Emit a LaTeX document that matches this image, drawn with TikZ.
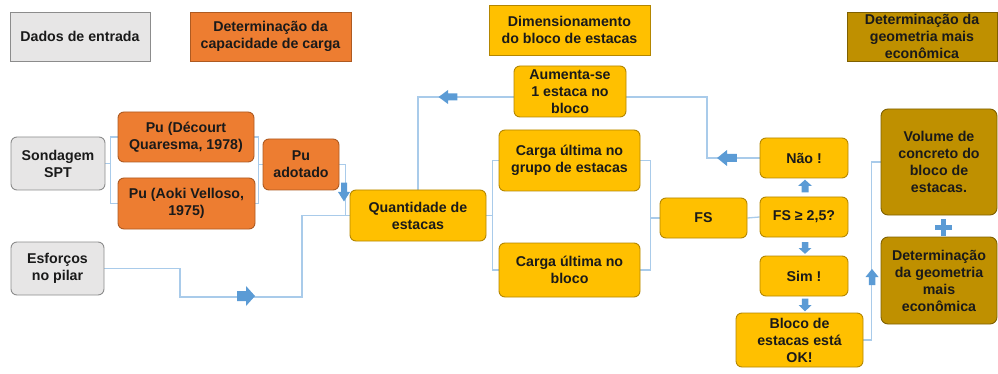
\documentclass[tikz,border=0pt]{standalone}
\usepackage{fontspec}
\setmainfont{Liberation Sans}
\usetikzlibrary{backgrounds}
\definecolor{grayf}{HTML}{E7E6E6}
\definecolor{grayd}{HTML}{8C8C8C}
\definecolor{orf}{HTML}{ED7D31}
\definecolor{ord}{HTML}{AE5A21}
\definecolor{yef}{HTML}{FFC000}
\definecolor{yed}{HTML}{B38600}
\definecolor{gof}{HTML}{BF9000}
\definecolor{god}{HTML}{7F6000}
\definecolor{linec}{HTML}{A9CBEA}
\definecolor{arrc}{HTML}{5B9BD5}
\definecolor{txt}{HTML}{1A1A1A}
\begin{document}
\begin{tikzpicture}[x=1pt,y=-1pt,
  font=\bfseries\fontsize{14.2}{17}\selectfont,
  base/.style={draw, line width=0.9pt, align=center, inner sep=1pt, text=txt},
  sz/.style 2 args={minimum width=#1pt, minimum height=#2pt},
  lgray/.style={base, fill=grayf, draw=grayd},
  lor/.style={base, fill=orf, draw=ord},
  lye/.style={base, fill=yef, draw=yed},
  lgo/.style={base, fill=gof, draw=god},
  bgray/.style={lgray, rounded corners=6pt},
  bor/.style={lor, rounded corners=6pt},
  bye/.style={lye, rounded corners=6pt},
  bgo/.style={lgo, rounded corners=7pt},
  conn/.style={draw=linec, line width=1.3pt},
  barrow/.pic={\fill[arrc] (-9,-5) -- (0,-5) -- (0,-10) -- (9,0) -- (0,10) -- (0,5) -- (-9,5) -- cycle;}
]
\useasboundingbox (0,0) rectangle (998,374);

% legend
\node[lgray, sz={140}{49}] (lg1) at (80,36.5) {Dados de entrada};
\node[lor, sz={161}{49}] (lg2) at (270.5,36.5) {Determinação da\\capacidade de carga};
\node[lye, sz={161}{50}] (lg3) at (569.5,30) {Dimensionamento\\do bloco de estacas};
\node[lgo, sz={150}{49}] (lg4) at (922,36.5) {Determinação da\\geometria mais\\econômica};

% nodes
\node[bgray, sz={94}{53}] (sond) at (58,163.5) {Sondagem\\SPT};
\node[bor, sz={136}{50}] (puD) at (186,137) {Pu (Décourt\\Quaresma, 1978)};
\node[bor, sz={137}{51}] (puA) at (186.5,203.5) {Pu (Aoki Velloso,\\1975)};
\node[bor, sz={76}{51}] (puAd) at (301,164.5) {Pu\\adotado};
\node[bgray, sz={93}{53}] (esf) at (57.5,268.5) {Esforços\\no pilar};
\node[bye, sz={136}{51}] (quant) at (418,215.5) {Quantidade de\\estacas};
\node[bye, sz={112}{51}] (aum) at (570,91.5) {Aumenta-se\\1 estaca no\\bloco};
\node[bye, sz={141}{61}] (cg) at (569.5,160.5) {Carga última no\\grupo de estacas};
\node[bye, sz={141}{54}] (cb) at (569.5,270) {Carga última no\\bloco};
\node[bye, sz={87}{40}] (fs) at (703.5,218) {FS};
\node[bye, sz={88}{40}] (nao) at (804,158) {Não !};
\node[bye, sz={88}{40}] (fsq) at (804,217) {FS ≥ 2,5?};
\node[bye, sz={88}{40}] (sim) at (804,276) {Sim !};
\node[bye, sz={127}{54}] (ok) at (799.5,340) {Bloco de\\estacas está\\OK!};
\node[bgo, sz={116}{106}] (vol) at (939,162) {Volume de\\concreto do\\bloco de\\estacas.};
\node[bgo, sz={116}{87}] (geo) at (939,280.5) {Determinação\\da geometria\\mais\\econômica};

\coordinate (e1) at (180,297);
\coordinate (e2) at (302,297);
\coordinate (f1) at (707,97);
\coordinate (f2) at (418,97);

\begin{scope}[on background layer]
\draw[conn] (puD.west) -- ++(-7,0) |- (sond.east);
\draw[conn] (puA.west) -- ++(-7,0) |- (sond.east);
\draw[conn] (puD.east) -- ++(4,0) |- (puAd.west);
\draw[conn] (puA.east) -- ++(3,0) |- (puAd.west);
\draw[conn] (puAd.east) -- ++(6,0) |- (quant.west);
\draw[conn] (esf.east) -| (e1) -- (e2) |- (quant.west);
\draw[conn] (nao.west) -| (f1) -- (f2) -- (quant.north);
\draw[conn] (quant.east) -- ++(6,0) |- (cg.west);
\draw[conn] (quant.east) -- ++(6,0) |- (cb.west);
\draw[conn] (cg.east) -- ++(10,0) |- (fs.west);
\draw[conn] (cb.east) -- ++(10,0) |- (fs.west);
\draw[conn] (fs.east) -- (fsq.west);
\draw[conn] (ok.east) -- ++(8,0) |- (vol.west);
\end{scope}

% block arrows
\pic at (246,296) {barrow};
\pic[rotate=-90, xscale=1.05, yscale=0.6] at (344,192) {barrow};
\pic[rotate=180, xscale=1.05, yscale=0.7] at (448,97) {barrow};
\pic[rotate=180, xscale=1.1, yscale=0.8] at (727,158) {barrow};
\pic[rotate=90, xscale=0.7, yscale=0.7] at (805,186) {barrow};
\pic[rotate=-90, xscale=0.65, yscale=0.65] at (805,248) {barrow};
\pic[rotate=-90, xscale=0.72, yscale=0.65] at (805,305) {barrow};
\pic[rotate=90, xscale=0.9, yscale=0.65] at (872,277) {barrow};
% plus
\fill[arrc] (934.5,225) rectangle (951.5,230);
\fill[arrc] (940.5,219) rectangle (945.5,236);
\end{tikzpicture}
\end{document}
